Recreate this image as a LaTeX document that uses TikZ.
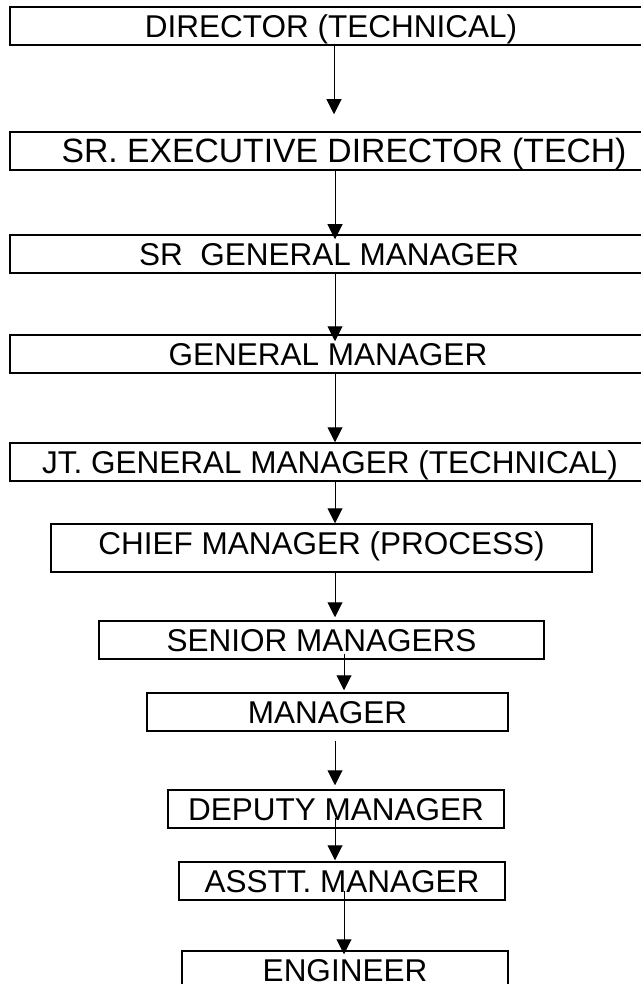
\documentclass[tikz,border=0pt]{standalone}
\usepackage{fontspec}
\setmainfont{Liberation Sans}
\usetikzlibrary{arrows.meta}

\begin{document}
\begin{tikzpicture}[x=1pt,y=1pt,
    rank node/.style={rectangle,draw,line width=1.5pt,inner sep=0pt,
        font=\fontsize{31.5}{36}\selectfont,text height=23pt,text depth=0pt,minimum height=38pt},
    link/.style={-{Triangle[length=15pt,width=15pt]},line width=1pt}]
    \useasboundingbox (0,0) rectangle (640,-984);

    \node[rank node,minimum width=642pt] (1) at (331,-26) {DIRECTOR (TECHNICAL)};
    \node[rank node,minimum width=668pt,font=\fontsize{33.7}{38}\selectfont,text height=24pt] (2) at (344,-151) {SR. EXECUTIVE DIRECTOR (TECH)};
    \node[rank node,minimum width=638pt] (3) at (329,-254) {SR\ \ GENERAL MANAGER};
    \node[rank node,minimum width=636pt] (4) at (328,-354) {GENERAL MANAGER};
    \node[rank node,minimum width=640pt] (5) at (330,-462) {JT. GENERAL MANAGER (TECHNICAL)};
    \node[rank node,minimum width=541pt,minimum height=48pt,text depth=11pt] (6) at (321.5,-548) {CHIEF MANAGER (PROCESS)};
    \node[rank node,minimum width=445pt] (7) at (321.5,-640) {SENIOR MANAGERS};
    \node[rank node,minimum width=361pt] (8) at (327.5,-712) {MANAGER};
    \node[rank node,minimum width=336pt] (9) at (336,-809) {DEPUTY MANAGER};
    \node[rank node,minimum width=326pt] (10) at (342,-881) {ASSTT. MANAGER};
    \node[rank node,minimum width=326pt] (11) at (345,-970) {ENGINEER};

    \path[link]
        ([xshift=3pt]1.south) edge ([xshift=-10pt,yshift=17pt]2.north)
        ([xshift=-9pt]2.south) edge ([xshift=6pt,yshift=-5pt]3.north)
        ([xshift=6pt]3.south) edge ([xshift=7pt,yshift=-7pt]4.north)
        ([xshift=7pt]4.south) edge ([xshift=5pt]5.north)
        ([xshift=5pt]5.south) edge ([xshift=13.5pt]6.north)
        ([xshift=13.5pt]6.south) edge ([xshift=13.5pt,yshift=3pt]7.north)
        ([xshift=22.5pt,yshift=6pt]7.south) edge ([xshift=16.5pt,yshift=2pt]8.north)
        ([xshift=7.5pt,yshift=-9pt]8.south) edge ([xshift=-1pt,yshift=4pt]9.north)
        ([xshift=-1pt,yshift=11pt]9.south) edge ([xshift=-7pt,yshift=1pt]10.north)
        ([xshift=2pt,yshift=10pt]10.south) edge ([xshift=-1pt,yshift=-4pt]11.north);
\end{tikzpicture}
\end{document}
